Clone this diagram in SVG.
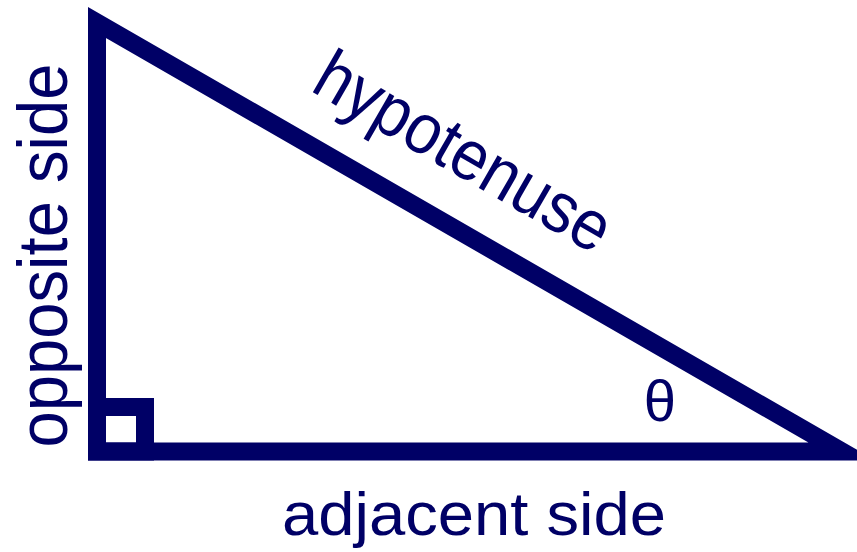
<svg xmlns="http://www.w3.org/2000/svg" width="857" height="552" viewBox="0 0 857 552">
<style>
.edge{fill:none;stroke:#000066;stroke-width:18;stroke-linejoin:miter;stroke-miterlimit:10}
.lbl{font-family:"Liberation Sans",Arial,sans-serif;fill:#000066}
</style>
<rect width="857" height="552" fill="#ffffff"/>
<g id="connectors">
<polygon id="triangle" class="edge" points="97,22.5 97,451.5 842,451.5"/>
<rect id="right-angle" class="edge" x="97" y="407" width="48" height="44.5"/>
</g>
<g id="label-hypotenuse">
<text class="lbl" font-size="63" textLength="330" lengthAdjust="spacingAndGlyphs" transform="translate(309,90) rotate(30) scale(1,1.13)">hypotenuse</text>
</g>
<g id="label-opposite">
<text class="lbl" font-size="62" text-anchor="middle" textLength="384" lengthAdjust="spacingAndGlyphs" transform="translate(67,255.5) rotate(-90) scale(1,1.15)">opposite side</text>
</g>
<g id="label-adjacent">
<text class="lbl" font-size="62" x="474" y="535" text-anchor="middle" textLength="384" lengthAdjust="spacingAndGlyphs">adjacent side</text>
</g>
<g id="label-theta">
<text class="lbl" font-size="58" x="660" y="421" text-anchor="middle">θ</text>
</g>
</svg>
